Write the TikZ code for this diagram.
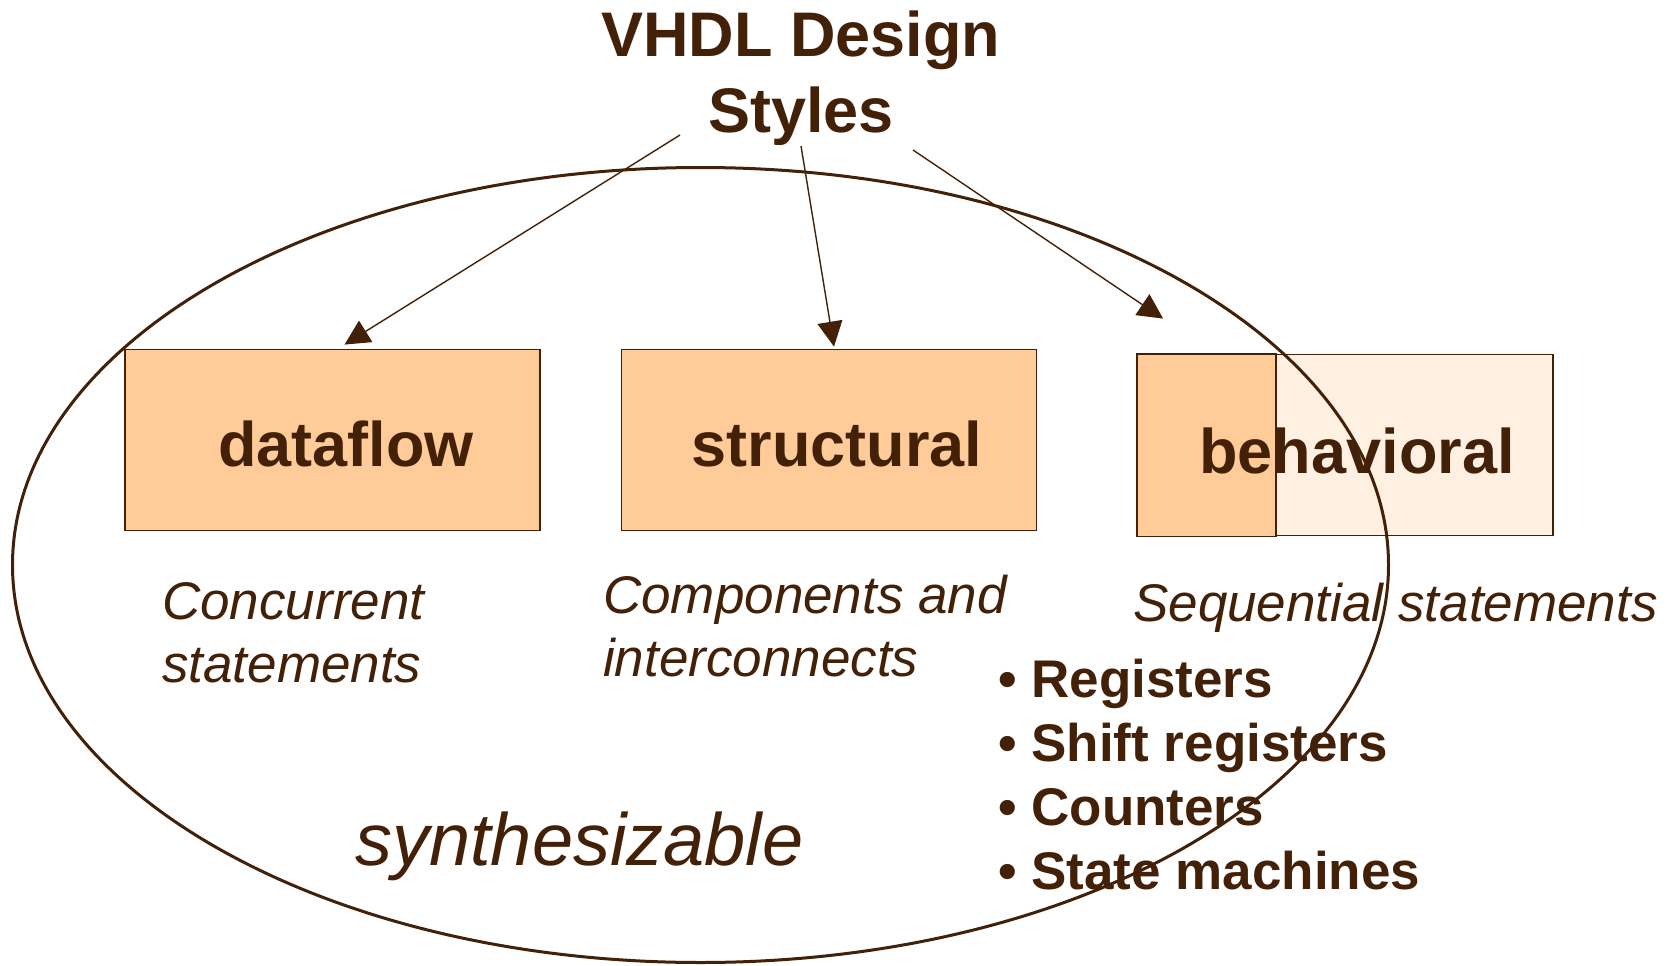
\documentclass[tikz,border=0pt]{standalone}
\usepackage{fontspec}
\setmainfont{Liberation Sans}
\usetikzlibrary{arrows.meta}
\definecolor{brn}{RGB}{66,33,8}
\definecolor{peach}{RGB}{255,204,153}
\definecolor{lpeach}{RGB}{255,240,226}

\begin{document}
\begin{tikzpicture}[x=1pt,y=-1pt,
    box/.style={draw=brn,line width=1.8pt,fill=peach,minimum width=415pt,minimum height=181pt,inner sep=0pt},
    lbl/.style={font=\fontsize{63}{76}\selectfont\bfseries,text=brn,inner sep=0pt},
    note/.style={font=\fontsize{53}{63}\selectfont\itshape,text=brn,align=left,inner sep=0pt},
    arr/.style={draw=brn,line width=1.4pt,-{Triangle[length=25pt,width=25pt]}}]
    \useasboundingbox (0,0) rectangle (1671,966);
    %definitions
    \node[box] (df) at (332.5,440) {};
    \node[box] (st) at (829,440) {};
    \node[box,fill=lpeach] (bh) at (1345.5,445) {};
    \filldraw[fill=peach,draw=brn,line width=1.8pt] (bh.north west) rectangle ([xshift=139pt]bh.south west);
    \coordinate (s1) at (680,135);
    \coordinate (s2) at (801,146);
    \coordinate (s3) at (913,150);
    %label
    \node[lbl,align=center,anchor=north] (ttl) at (801,11) {VHDL Design\\Styles};
    \node[lbl,anchor=base] (dfl) at (346,466) {dataflow};
    \node[lbl,anchor=base] (stl) at (837,466) {structural};
    \node[lbl,anchor=base] (bhl) at (1357,473) {behavioral};
    \node[note,anchor=north west] (cc) at (162,582) {Concurrent\\statements};
    \node[note,anchor=north west] (ci) at (603,575) {Components and\\interconnects};
    \node[note,anchor=base west] (sq) at (1133,621) {Sequential statements};
    \node[font=\fontsize{53}{64}\selectfont\bfseries,text=brn,align=left,inner sep=0pt,anchor=north west] (lst) at (998,659)
        {• Registers\\• Shift registers\\• Counters\\• State machines};
    \node[font=\fontsize{74}{80}\selectfont\itshape,text=brn,inner sep=0pt,anchor=base west] (syn) at (355,865) {synthesizable};
    %drawing
    \draw[brn,line width=3pt] (700.5,565) ellipse [x radius=688, y radius=397.5];
    \draw[arr] (s1) -- ([xshift=12pt,yshift=4pt]df.north);
    \draw[arr] (s2) -- ([xshift=5pt,yshift=2pt]st.north);
    \draw[arr] (s3) -- ([xshift=26pt,yshift=35pt]bh.north west);
\end{tikzpicture}
\end{document}
